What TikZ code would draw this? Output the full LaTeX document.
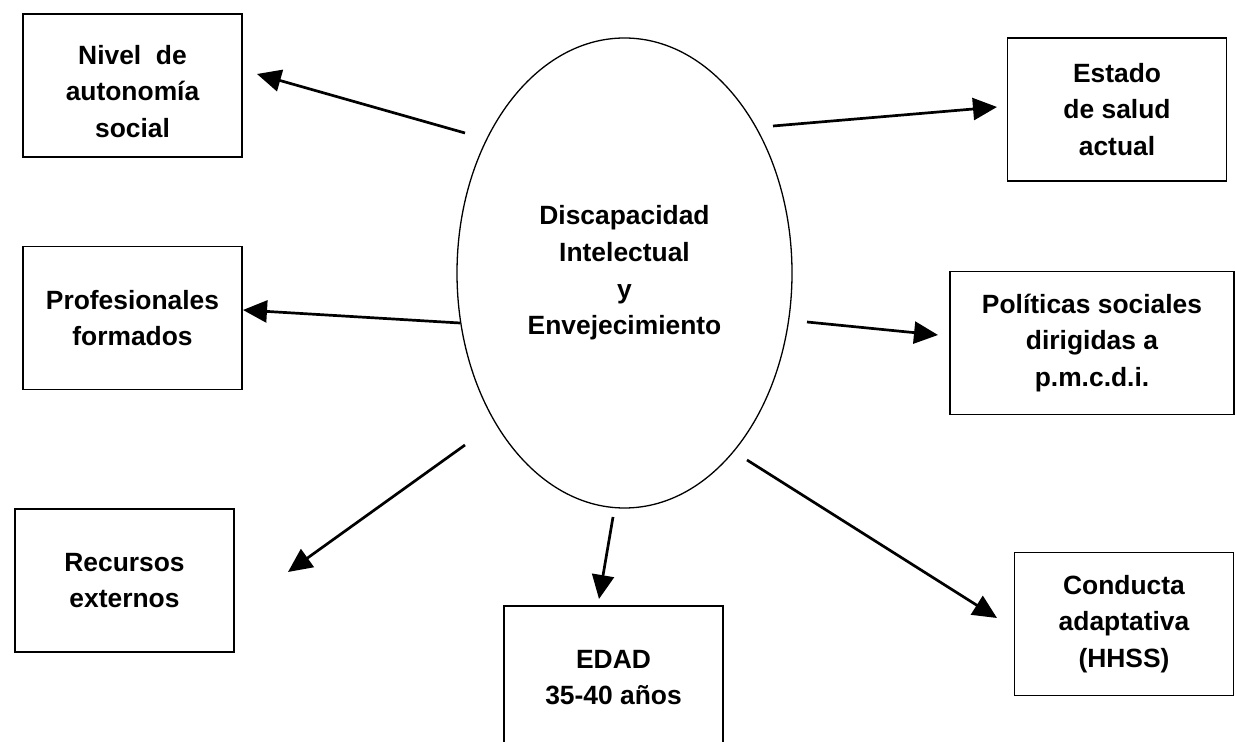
\documentclass[tikz,border=0pt]{standalone}
\usepackage{fontspec}
\setmainfont{Liberation Sans}
\usetikzlibrary{arrows.meta,shapes.geometric}
\tikzset{
  box/.style={draw=black, line width=0.75pt, rectangle, minimum width=109.5pt, minimum height=71.5pt, inner sep=0pt, align=center, font=\bfseries\fontsize{13.2}{18.3}\selectfont},
  hub/.style={draw=black, line width=0.65pt, ellipse, minimum width=167.5pt, minimum height=235pt, inner sep=0pt, align=center, font=\bfseries\fontsize{13.2}{18.3}\selectfont},
  link/.style={line width=1.35pt, -{Triangle[length=12pt,width=11pt]}}
}
\begin{document}
\begin{tikzpicture}[x=0.5pt,y=-0.5pt]
\clip (0,0) rectangle (1236,742);
\fill[white] (0,0) rectangle (1236,742);
% central ellipse
\node[hub] (c) at (624.5,273) {Discapacidad\\Intelectual\\y\\Envejecimiento};
% boxes
\node[box] (nivel) at (132.5,85.5) {\rule{0pt}{15.5pt}Nivel\ \ de\\autonomía\\social};
\node[box] (estado) at (1117,109.5) {Estado\\de salud\\actual};
\node[box] (prof) at (132.5,318) {Profesionales\\formados};
\node[box, minimum width=142pt] (pol) at (1092,343) {Políticas sociales\\dirigidas a\\p.m.c.d.i.};
\node[box] (rec) at (124.5,580.5) {Recursos\\externos};
\node[box] (edad) at (613.5,677.5) {EDAD\\35-40 años};
\node[box] (cond) at (1124,624) {Conducta\\adaptativa\\(HHSS)};
% connector ends
\coordinate (s1) at (465,133); \coordinate (t1) at (257,74);
\coordinate (s2) at (773,126); \coordinate (t2) at (997,107);
\coordinate (s3) at (460,323); \coordinate (t3) at (243,310);
\coordinate (s4) at (807,322); \coordinate (t4) at (938,335);
\coordinate (s5) at (465,445); \coordinate (t5) at (288,572);
\coordinate (s6) at (613,517); \coordinate (t6) at (599,599);
\coordinate (s7) at (747,460); \coordinate (t7) at (997,618);
\draw[link] (s1) -- (t1);
\draw[link] (s2) -- (t2);
\draw[link] (s3) -- (t3);
\draw[link] (s4) -- (t4);
\draw[link] (s5) -- (t5);
\draw[link] (s6) -- (t6);
\draw[link] (s7) -- (t7);
\end{tikzpicture}
\end{document}
